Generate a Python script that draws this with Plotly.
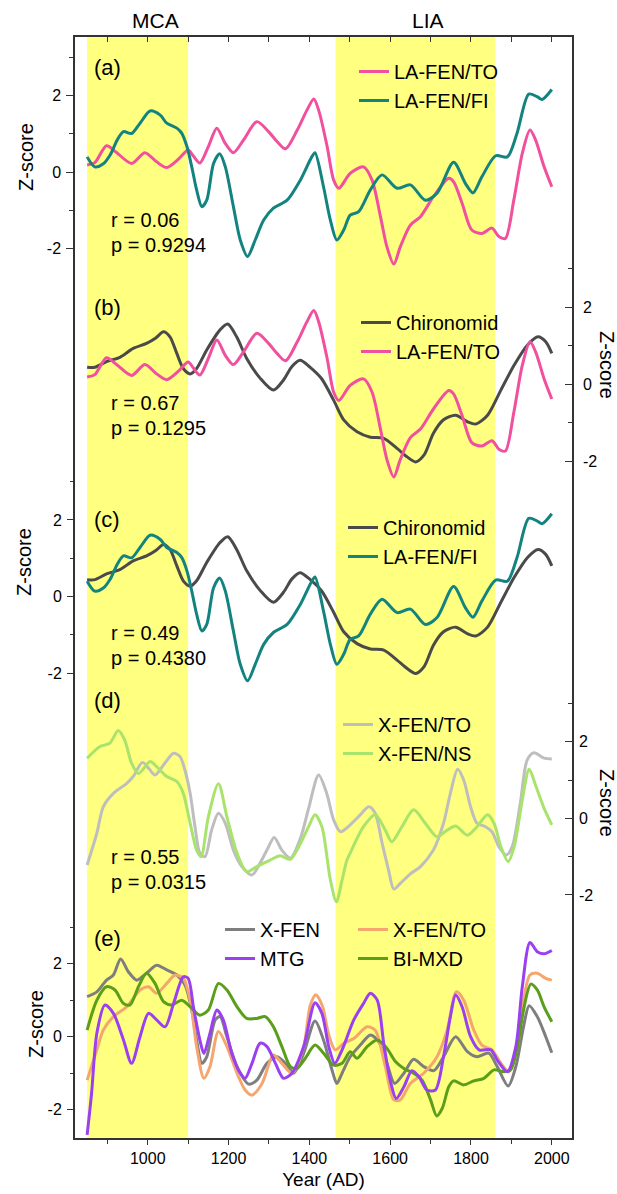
import plotly.graph_objects as go

# ---------------- data ----------------
to_years = [850, 869, 898, 922, 960, 993, 1022, 1047, 1076, 1100, 1113, 1129, 1150, 1171, 1192, 1212, 1237, 1270, 1299, 1320, 1341, 1370, 1394, 1411, 1423, 1444, 1460, 1473, 1501, 1534, 1555, 1576, 1592, 1609, 1625, 1650, 1675, 1707, 1745, 1757, 1778, 1802, 1827, 1852, 1869, 1885, 1906, 1927, 1946, 1960, 1981, 2000]
la_fen_to = [0.19, 0.25, 0.69, 0.52, 0.23, 0.51, 0.27, 0.12, 0.34, 0.58, 0.42, 0.24, 0.67, 1.15, 0.75, 0.51, 0.84, 1.32, 1.06, 0.80, 0.61, 1.10, 1.62, 1.91, 1.62, 0.67, -0.20, -0.42, -0.03, 0.14, -0.20, -1.16, -1.95, -2.40, -1.95, -1.38, -1.16, -0.64, -0.16, -0.25, -0.81, -1.51, -1.60, -1.46, -1.68, -1.73, -0.73, 0.49, 1.10, 0.84, 0.14, -0.38]

fi_years = [850, 869, 890, 907, 925, 940, 960, 981, 1006, 1031, 1047, 1072, 1084, 1097, 1109, 1121, 1134, 1146, 1163, 1178, 1192, 1212, 1229, 1247, 1266, 1287, 1311, 1345, 1377, 1406, 1414, 1435, 1452, 1468, 1485, 1501, 1522, 1551, 1580, 1617, 1650, 1687, 1716, 1757, 1786, 1805, 1827, 1861, 1890, 1914, 1943, 1964, 1976, 2000]
la_fen_fi = [0.40, 0.14, 0.22, 0.45, 0.85, 1.06, 1.01, 1.28, 1.60, 1.49, 1.28, 1.15, 1.02, 0.67, 0.14, -0.46, -0.90, -0.73, 0.23, 0.48, 0.14, -0.90, -1.77, -2.20, -1.77, -1.25, -0.94, -0.73, -0.22, 0.40, 0.51, -0.38, -1.25, -1.77, -1.51, -1.12, -1.03, -0.46, -0.07, -0.42, -0.33, -0.73, -0.55, 0.26, -0.29, -0.54, -0.12, 0.43, 0.40, 1.02, 2.04, 1.97, 1.90, 2.16]

ch_years = [850, 869, 898, 931, 964, 997, 1020, 1039, 1055, 1072, 1088, 1105, 1121, 1146, 1179, 1198, 1220, 1245, 1278, 1311, 1336, 1357, 1377, 1402, 1430, 1460, 1485, 1518, 1551, 1584, 1617, 1642, 1663, 1684, 1707, 1732, 1762, 1791, 1812, 1841, 1874, 1907, 1940, 1966, 1985, 2000]
chironomid = [0.44, 0.44, 0.59, 0.70, 0.93, 1.06, 1.20, 1.36, 1.23, 0.80, 0.41, 0.27, 0.41, 0.89, 1.41, 1.56, 1.23, 0.67, 0.16, -0.15, 0.11, 0.46, 0.62, 0.44, 0.15, -0.41, -0.92, -1.23, -1.37, -1.40, -1.66, -1.88, -2.01, -1.83, -1.27, -0.92, -0.80, -0.97, -1.03, -0.80, -0.15, 0.50, 1.02, 1.23, 1.10, 0.80]

xto_years = [850, 874, 890, 915, 948, 964, 987, 1002, 1018, 1039, 1064, 1080, 1092, 1105, 1117, 1129, 1142, 1158, 1175, 1192, 1212, 1233, 1258, 1278, 1295, 1313, 1332, 1353, 1377, 1398, 1423, 1443, 1460, 1477, 1501, 1526, 1547, 1563, 1580, 1596, 1609, 1625, 1650, 1675, 1707, 1732, 1749, 1767, 1782, 1799, 1815, 1836, 1852, 1869, 1887, 1902, 1922, 1939, 1956, 1981, 2000]
x_fen_to_d = [-1.22, -0.39, 0.30, 0.65, 0.91, 1.09, 1.46, 1.31, 1.13, 1.39, 1.70, 1.61, 1.26, 0.65, -0.22, -0.91, -1.00, -0.31, 0.13, -0.13, -0.83, -1.26, -1.48, -1.17, -0.83, -0.50, -0.83, -1.04, -0.55, 0.25, 1.13, 0.65, -0.04, -0.35, -0.17, 0.09, 0.30, 0.13, -0.65, -1.35, -1.85, -1.70, -1.45, -1.26, -0.83, -0.13, 0.65, 1.28, 1.00, 0.30, -0.13, -0.22, -0.35, -0.74, -0.96, -0.74, 0.39, 1.52, 1.71, 1.57, 1.55]

xns_years = [850, 881, 906, 927, 943, 960, 977, 1006, 1022, 1047, 1072, 1088, 1105, 1121, 1132, 1150, 1175, 1196, 1221, 1245, 1270, 1303, 1328, 1353, 1377, 1398, 1414, 1431, 1452, 1467, 1481, 1493, 1501, 1534, 1563, 1588, 1604, 1629, 1658, 1687, 1716, 1741, 1762, 1791, 1815, 1841, 1857, 1874, 1892, 1907, 1927, 1944, 1961, 1981, 2000]
x_fen_ns = [1.57, 1.87, 1.96, 2.29, 2.04, 1.44, 1.17, 1.48, 1.35, 1.09, 0.96, 0.65, -0.13, -0.83, -1.00, 0.04, 0.90, 0.04, -0.91, -1.39, -1.26, -1.09, -0.98, -1.07, -0.68, -0.22, 0.09, -0.22, -1.61, -2.18, -1.61, -1.09, -0.91, -0.22, 0.09, -0.31, -0.61, -0.22, 0.22, -0.13, -0.48, -0.31, -0.20, -0.44, -0.22, 0.09, -0.13, -0.74, -1.13, -0.74, 0.48, 1.28, 0.83, 0.26, -0.17]

xf_years = [850, 874, 898, 915, 933, 952, 973, 997, 1022, 1047, 1072, 1092, 1109, 1121, 1134, 1146, 1167, 1179, 1196, 1221, 1250, 1270, 1295, 1320, 1345, 1361, 1386, 1414, 1435, 1456, 1468, 1481, 1501, 1526, 1551, 1572, 1592, 1611, 1634, 1658, 1683, 1708, 1732, 1762, 1791, 1815, 1844, 1865, 1892, 1911, 1930, 1944, 1964, 1985, 2000]
x_fen = [1.10, 1.23, 1.55, 1.69, 2.13, 1.78, 1.55, 1.74, 1.96, 1.83, 1.69, 1.42, 0.73, -0.09, -0.73, -0.55, 0.46, 0.55, 0.00, -0.82, -1.30, -1.19, -0.73, -0.55, -0.78, -1.00, -0.45, 0.43, -0.09, -0.91, -1.28, -1.00, -0.55, -0.23, 0.05, -0.14, -0.73, -1.28, -1.00, -0.62, -0.82, -0.93, -0.55, 0.00, -0.41, -0.55, -0.45, -0.82, -1.35, -0.82, 0.27, 0.85, 0.55, 0.00, -0.44]

xte_years = [850, 874, 890, 915, 948, 981, 1002, 1022, 1047, 1068, 1088, 1105, 1121, 1139, 1154, 1175, 1196, 1221, 1241, 1258, 1283, 1311, 1332, 1357, 1386, 1402, 1416, 1432, 1448, 1464, 1485, 1510, 1543, 1563, 1588, 1609, 1625, 1650, 1683, 1716, 1741, 1764, 1782, 1807, 1827, 1852, 1874, 1894, 1915, 1930, 1946, 1964, 1985, 2000]
x_fen_to_e = [-1.19, -0.36, 0.18, 0.55, 0.82, 1.28, 1.37, 1.19, 1.46, 1.69, 1.60, 1.00, -0.27, -1.14, -0.82, 0.14, -0.27, -1.00, -1.46, -1.60, -1.28, -0.50, -0.73, -1.00, -0.27, 0.85, 1.15, 0.85, 0.05, -0.36, -0.18, -0.05, 0.27, 0.18, -0.82, -1.73, -1.73, -1.28, -1.00, -0.55, 0.18, 1.23, 1.00, 0.18, -0.23, -0.36, -0.73, -0.96, -0.27, 1.00, 1.69, 1.74, 1.60, 1.55]

mtg_years = [850, 861, 874, 894, 915, 940, 960, 981, 1002, 1022, 1043, 1064, 1088, 1100, 1113, 1129, 1139, 1154, 1171, 1187, 1208, 1229, 1241, 1258, 1278, 1295, 1316, 1336, 1357, 1386, 1414, 1431, 1448, 1463, 1481, 1510, 1534, 1551, 1568, 1584, 1600, 1615, 1634, 1654, 1671, 1691, 1712, 1732, 1749, 1762, 1778, 1799, 1820, 1849, 1865, 1890, 1911, 1927, 1946, 1964, 1981, 2000]
mtg = [-2.69, -1.55, 0.09, 0.87, 0.64, -0.09, -0.73, 0.00, 0.64, 0.46, 0.27, 0.91, 1.64, 1.60, 0.82, -0.09, -0.46, 0.09, 0.73, 0.46, -0.46, -1.00, -1.14, -0.73, -0.18, -0.27, -0.73, -1.14, -1.00, -0.27, 0.93, 0.64, -0.27, -0.73, -0.36, 0.46, 0.91, 1.19, 1.00, -0.18, -1.19, -1.69, -1.37, -0.93, -1.09, -1.46, -1.46, -0.55, 0.55, 1.14, 0.82, 0.00, -0.36, -0.36, -0.64, -0.96, -0.27, 1.37, 2.58, 2.33, 2.27, 2.36]

bi_years = [850, 874, 898, 919, 940, 956, 977, 997, 1018, 1039, 1060, 1084, 1105, 1129, 1150, 1175, 1196, 1221, 1245, 1270, 1291, 1311, 1332, 1353, 1369, 1390, 1414, 1435, 1460, 1481, 1501, 1518, 1543, 1568, 1592, 1613, 1634, 1658, 1679, 1700, 1715, 1729, 1745, 1757, 1782, 1807, 1832, 1857, 1882, 1898, 1915, 1930, 1948, 1964, 1981, 2000]
bi_mxd = [0.18, 1.00, 1.37, 1.28, 0.91, 0.87, 1.37, 1.74, 1.46, 0.96, 0.87, 1.00, 0.82, 0.59, 0.73, 1.46, 1.28, 0.82, 0.50, 0.50, 0.55, 0.27, -0.27, -0.82, -0.87, -0.59, -0.23, -0.45, -0.78, -0.73, -0.41, -0.59, -0.27, -0.09, -0.32, -0.68, -0.87, -1.00, -1.19, -1.73, -2.17, -1.96, -1.37, -1.21, -1.32, -1.21, -1.14, -0.91, -0.96, -0.91, -0.27, 0.73, 1.44, 1.28, 0.82, 0.41]

periods = ["MCA", "LIA"]
period_start = [850, 1465]
period_end = [1100, 1860]

panel_labels = ["(a)", "(b)", "(c)", "(d)", "(e)"]
r_values = ["r = 0.06", "r = 0.67", "r = 0.49", "r = 0.55"]
p_values = ["p = 0.9294", "p = 0.1295", "p = 0.4380", "p = 0.0315"]

x_major = [1000, 1200, 1400, 1600, 1800, 2000]
x_minor = [900, 1100, 1300, 1500, 1700, 1900]
y_major = [-2, 0, 2]
y_minor = [-1, 1, 3]

# ---------------- colours ----------------
C_PINK = "#F0509E"
C_TEAL = "#138380"
C_CHIR = "#4A4A4A"
C_LGRAY = "#BEBEBE"
C_LGREEN = "#A8E36C"
C_GRAY = "#7E7E7E"
C_ORANGE = "#F5A66E"
C_PURPLE = "#9A40F0"
C_GREEN = "#5A9E1A"
AX = "#333333"
FONT = "Liberation Sans, Arial, sans-serif"

W, H = 617, 1194
PL, PR, PT, PB = 75, 572, 37, 1138


def fx(p):
    return (p - PL) / (PR - PL)


def fy(p):
    return (PB - p) / (PB - PT)


def yrange(zero_px, unit):
    return [(zero_px - PB) / unit, (zero_px - PT) / unit]


fig = go.Figure()

LW = 3


def add(x, y, name, color, yaxis, legend):
    fig.add_trace(go.Scatter(
        x=x, y=y, name=name, mode="lines", yaxis=yaxis, legend=legend,
        line=dict(color=color, width=LW, shape="spline", smoothing=0.8)))


# panel a
add(to_years, la_fen_to, "LA-FEN/TO", C_PINK, "y", "legend")
add(fi_years, la_fen_fi, "LA-FEN/FI", C_TEAL, "y", "legend")
# panel b
add(ch_years, chironomid, "Chironomid", C_CHIR, "y2", "legend2")
add(to_years, la_fen_to, "LA-FEN/TO", C_PINK, "y2", "legend2")
# panel c
add(ch_years, chironomid, "Chironomid", C_CHIR, "y3", "legend3")
add(fi_years, la_fen_fi, "LA-FEN/FI", C_TEAL, "y3", "legend3")
# panel d
add(xto_years, x_fen_to_d, "X-FEN/TO", C_LGRAY, "y4", "legend4")
add(xns_years, x_fen_ns, "X-FEN/NS", C_LGREEN, "y4", "legend4")
# panel e
add(xf_years, x_fen, "X-FEN", C_GRAY, "y5", "legend5")
add(xte_years, x_fen_to_e, "X-FEN/TO", C_ORANGE, "y5", "legend6")
add(bi_years, bi_mxd, "BI-MXD", C_GREEN, "y5", "legend6")
add(mtg_years, mtg, "MTG", C_PURPLE, "y5", "legend5")

# shaded periods
for s, e in zip(period_start, period_end):
    fig.add_shape(type="rect", xref="x", yref="paper", x0=s, x1=e, y0=0, y1=1,
                  fillcolor="#FFFF80", line=dict(width=0), layer="below")

tickfont = dict(family=FONT, size=16, color="black")


def yax(zero_px, unit, side, showline=False, overlay=True):
    d = dict(
        range=yrange(zero_px, unit), domain=[0, 1], side=side, anchor="x",
        automargin=False,
        tickmode="array", tickvals=y_major, ticktext=[str(v) for v in y_major],
        ticks="outside" if side == "left" else "inside", ticklen=7, tickwidth=1.3,
        tickcolor=AX, tickfont=tickfont, showgrid=False, zeroline=False,
        showline=showline, linecolor=AX, linewidth=1.5,
        ticklabelstandoff=2 if side == "left" else 6,
        minor=dict(tickmode="array", tickvals=y_minor,
                   ticks="outside" if side == "left" else "inside",
                   ticklen=4, tickwidth=1.3, tickcolor=AX, showgrid=False),
    )
    if overlay:
        d["overlaying"] = "y"
    return d


legend_common = dict(bgcolor="rgba(0,0,0,0)", borderwidth=0,
                     font=dict(family=FONT, size=20, color="black"),
                     xanchor="left", yanchor="top", tracegroupgap=0)


def leg(text_left_px, first_center_px):
    return dict(legend_common, x=fx(text_left_px - 42), y=fy(first_center_px - 20))


fig.update_layout(
    width=W, height=H,
    margin=dict(l=PL, r=W - PR, t=PT, b=H - PB, autoexpand=False),
    paper_bgcolor="white", plot_bgcolor="white",
    font=dict(family=FONT, color="black"),
    xaxis=dict(range=[820, 2050], tickmode="array", tickvals=x_major, automargin=False,
               ticktext=[str(v) for v in x_major], ticks="outside", ticklen=5,
               tickwidth=1.3, tickcolor=AX, tickfont=tickfont,
               showline=True, linecolor=AX, linewidth=1.5, showgrid=False, zeroline=False,
               minor=dict(tickmode="array", tickvals=x_minor, ticks="outside",
                          ticklen=4, tickwidth=1.3, tickcolor=AX),
               title=dict(text="Year (AD)", font=dict(family=FONT, size=19), standoff=7)),
    xaxis2=dict(range=[820, 2050], overlaying="x", side="top", anchor="y", automargin=False,
                tickmode="array", tickvals=x_major + x_minor, showticklabels=False,
                ticks="inside", ticklen=5, tickwidth=1.3, tickcolor=AX,
                showline=True, linecolor=AX, linewidth=1.5, showgrid=False, zeroline=False),
    yaxis=yax(172.2, 38.3, "left", showline=True, overlay=False),
    yaxis2=yax(384.3, 38.6, "right", showline=True),
    yaxis3=yax(596.5, 38.3, "left"),
    yaxis4=yax(818.3, 38.3, "right"),
    yaxis5=yax(1036.7, 36.5, "left"),
    legend=leg(396, 72),
    legend2=leg(398, 323),
    legend3=leg(385, 528),
    legend4=leg(380, 725),
    legend5=leg(262, 930),
    legend6=leg(395, 930),
    showlegend=True,
)

# invisible trace to realise the top axis
fig.add_trace(go.Scatter(x=[820], y=[0], xaxis="x2", yaxis="y", mode="markers",
                         marker=dict(opacity=0), showlegend=False, hoverinfo="skip"))

ann = []
# period labels
for name, xp in zip(periods, [155, 428]):
    ann.append(dict(x=fx(xp), y=fy(20), xref="paper", yref="paper", text=name,
                    showarrow=False, font=dict(family=FONT, size=21),
                    xanchor="center", yanchor="middle"))
# panel letters
for lab, ypx in zip(panel_labels, [68, 308, 519, 700, 938]):
    ann.append(dict(x=fx(92), y=fy(ypx), xref="paper", yref="paper", text=lab,
                    showarrow=False, font=dict(family=FONT, size=22),
                    xanchor="left", yanchor="middle"))
# statistics
for r, p, ry in zip(r_values, p_values, [220, 403, 633, 857]):
    ann.append(dict(x=fx(109), y=fy(ry), xref="paper", yref="paper", text=r,
                    showarrow=False, font=dict(family=FONT, size=20),
                    xanchor="left", yanchor="middle"))
    ann.append(dict(x=fx(109), y=fy(ry + 25), xref="paper", yref="paper", text=p,
                    showarrow=False, font=dict(family=FONT, size=20),
                    xanchor="left", yanchor="middle"))
# axis titles
for xp, yp, ang in [(26, 157, -90), (24, 562, -90), (36, 1024, -90), (607, 365, 90), (607, 803, 90)]:
    ann.append(dict(x=fx(xp), y=fy(yp), xref="paper", yref="paper", text="Z-score",
                    showarrow=False, textangle=ang, font=dict(family=FONT, size=20),
                    xanchor="center", yanchor="middle"))
fig.update_layout(annotations=ann)

fig.write_html("out.html", config={"displayModeBar": False},
               post_script="document.body.style.margin='0px';document.body.style.overflow='hidden';")
